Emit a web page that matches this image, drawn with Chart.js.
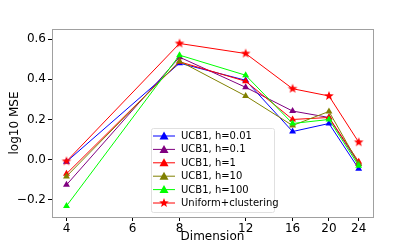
<!DOCTYPE html>
<html>
<head>
<meta charset="utf-8">
<script src="https://cdn.jsdelivr.net/npm/chart.js@4/dist/chart.umd.min.js"></script>
<style>
  html, body { margin:0; padding:0; background:#fff; }
  #wrap { width:415px; height:244px; }
</style>
</head>
<body>
<div id="wrap"><canvas id="c" width="415" height="244"></canvas></div>
<script>
/* data */
const dims       = [4, 8, 12, 16, 20, 24];
const xTicks     = [4, 6, 8, 12, 16, 20, 24];
const yTicks     = [-0.2, 0.0, 0.2, 0.4, 0.6];
const labels     = ['UCB1, h=0.01', 'UCB1, h=0.1', 'UCB1, h=1', 'UCB1, h=10', 'UCB1, h=100', 'Uniform+clustering'];
const colors     = ['#0000ff', '#800080', '#ff0000', '#808000', '#00ff00', '#ff0000'];
const ucb001     = [-0.01, 0.48, 0.395, 0.14, 0.18, -0.045];
const ucb01      = [-0.125, 0.51, 0.36, 0.242, 0.21, -0.02];
const ucb1       = [-0.07, 0.487, 0.39, 0.20, 0.21, -0.01];
const ucb10      = [-0.083, 0.49, 0.317, 0.17, 0.24, -0.02];
const ucb100     = [-0.23, 0.52, 0.42, 0.18, 0.20, -0.03];
const uniform    = [-0.008, 0.578, 0.528, 0.353, 0.317, 0.087];
const series     = [ucb001, ucb01, ucb1, ucb10, ucb100, uniform];

const FONT = 'DejaVu Sans';

/* filled 5-point star image for the last series */
function makeStar (r, color) {
  const c = document.createElement('canvas');
  c.width = c.height = r * 2 + 2;
  const g = c.getContext('2d');
  g.fillStyle = color;
  g.beginPath();
  for (let i = 0; i < 10; i++) {
    const rad = i % 2 ? r * 0.42 : r;
    const a = -Math.PI / 2 + i * Math.PI / 5;
    const px = r + 1 + rad * Math.cos(a), py = r + 1 + rad * Math.sin(a);
    i ? g.lineTo(px, py) : g.moveTo(px, py);
  }
  g.closePath(); g.fill();
  return c;
}
const star = makeStar(5, '#ff0000');

const datasets = series.map((vals, i) => ({
  label: labels[i],
  data: dims.map((d, j) => ({ x: d, y: vals[j] })),
  borderColor: colors[i],
  backgroundColor: colors[i],
  borderWidth: 1,
  pointStyle: i === 5 ? star : 'triangle',
  pointRadius: 4,
  pointBorderWidth: 0,
  order: 5 - i
}));

/* frame + legend drawn like matplotlib */
const framePlugin = {
  id: 'frame',
  afterDraw (chart) {
    const { ctx, chartArea: a } = chart;
    ctx.save();
    ctx.strokeStyle = '#a0a0a0';
    ctx.lineWidth = 1;
    ctx.strokeRect(Math.round(a.left) + 0.5, Math.round(a.top) + 0.5,
                   Math.round(a.right - a.left), Math.round(a.bottom - a.top));

    /* legend box */
    const bx = 151, by = 128, bw = 123, bh = 84;
    ctx.fillStyle = 'rgba(255,255,255,0.85)';
    ctx.strokeStyle = '#e0e0e0';
    ctx.beginPath();
    ctx.roundRect(bx + 0.5, by + 0.5, bw, bh, 2);
    ctx.fill(); ctx.stroke();

    ctx.font = '10px ' + FONT;
    ctx.textBaseline = 'middle';
    chart.data.datasets.forEach((ds, i) => {
      const y = 136 + i * 13.4;
      ctx.strokeStyle = ds.borderColor;
      ctx.lineWidth = 1;
      ctx.beginPath(); ctx.moveTo(153, y); ctx.lineTo(175, y); ctx.stroke();
      ctx.fillStyle = ds.borderColor;
      if (i === 5) {
        ctx.drawImage(star, 164 - star.width / 2, y - star.height / 2);
      } else {
        ctx.beginPath();
        ctx.moveTo(164, y - 4.5); ctx.lineTo(168.5, y + 3.5); ctx.lineTo(159.5, y + 3.5);
        ctx.closePath(); ctx.fill();
      }
      ctx.fillStyle = '#000';
      ctx.fillText(ds.label, 181, y + 0.5);
    });
    ctx.restore();
  }
};

new Chart(document.getElementById('c').getContext('2d'), {
  type: 'line',
  data: { datasets },
  plugins: [framePlugin],
  options: {
    responsive: false,
    animation: false,
    layout: { padding: { top: 29, right: 42, left: 0, bottom: 0 } },
    plugins: { legend: { display: false }, tooltip: { enabled: false } },
    scales: {
      x: {
        type: 'logarithmic',
        min: 3.66, max: 26.2,
        afterBuildTicks: s => { s.ticks = xTicks.map(v => ({ value: v })); },
        afterFit: s => { s.height = 27; },
        grid: { drawOnChartArea: false, tickLength: 4, color: '#000' },
        border: { color: '#a0a0a0' },
        ticks: {
          autoSkip: false, maxRotation: 0, padding: 1, color: '#000',
          font: { family: FONT, size: 12 },
          callback: v => String(v)
        },
        title: { display: true, text: 'Dimension', color: '#000', padding: 0,
                 font: { family: FONT, size: 12 } }
      },
      y: {
        min: -0.285, max: 0.65,
        afterBuildTicks: s => { s.ticks = yTicks.map(v => ({ value: v })); },
        afterFit: s => { s.width = 52; },
        grid: { drawOnChartArea: false, tickLength: 4, color: '#000' },
        border: { color: '#a0a0a0' },
        ticks: {
          padding: 2, color: '#000',
          font: { family: FONT, size: 12 },
          callback: v => v.toFixed(1).replace('-', '\u2212')
        },
        title: { display: true, text: 'log10 MSE', color: '#000', padding: { top: 8, bottom: 0 },
                 font: { family: FONT, size: 12 } }
      }
    }
  }
});
</script>
</body>
</html>
